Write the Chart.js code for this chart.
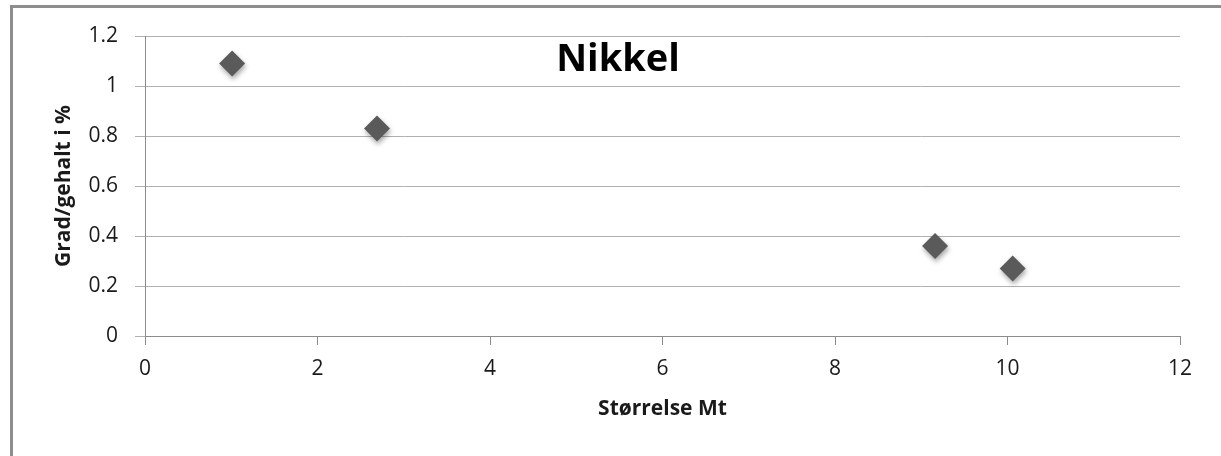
<!DOCTYPE html>
<html>
<head>
<meta charset="utf-8">
<script src="https://cdn.jsdelivr.net/npm/chart.js@4/dist/chart.umd.min.js"></script>
<style>
  html, body { margin: 0; padding: 0; background: #ffffff; }
  #wrap { width: 1221px; height: 456px; position: relative; }
</style>
</head>
<body>
<div id="wrap"><canvas id="chart" width="1221" height="456"></canvas></div>
<script>
// Deposit size (Mt) and nickel grade (%)
const sizeMt = [1.01, 2.69, 9.16, 10.06];
const gradePct = [1.09, 0.83, 0.36, 0.27];

const chartTitle = 'Nikkel';
const xTitle = 'Størrelse Mt';
const yTitle = 'Grad/gehalt i %';

const FONT = '"Open Sans", "DejaVu Sans", sans-serif';

// Frame lines along the top and left edges of the canvas
const framePlugin = {
  id: 'frame',
  beforeDraw(chart) {
    const ctx = chart.ctx;
    ctx.save();
    ctx.fillStyle = '#ffffff';
    ctx.fillRect(0, 0, chart.width, chart.height);
    ctx.fillStyle = '#8e8e8e';
    ctx.fillRect(10, 5, chart.width - 10, 3);
    ctx.fillRect(10, 5, 3, chart.height - 5);
    ctx.restore();
  }
};

// Soft drop shadow under the markers
const shadowPlugin = {
  id: 'markerShadow',
  beforeDatasetsDraw(chart) {
    const ctx = chart.ctx;
    ctx.save();
    ctx.shadowColor = 'rgba(0,0,0,0.35)';
    ctx.shadowBlur = 5;
    ctx.shadowOffsetX = 1;
    ctx.shadowOffsetY = 3;
  },
  afterDatasetsDraw(chart) {
    chart.ctx.restore();
  }
};

// Chart title overlaid inside the plot area
const overlayTitle = {
  id: 'overlayTitle',
  afterDraw(chart) {
    const ctx = chart.ctx;
    ctx.save();
    ctx.font = 'bold 38px ' + FONT;
    ctx.fillStyle = '#000000';
    ctx.textAlign = 'center';
    ctx.textBaseline = 'middle';
    ctx.fillText(chartTitle, 618, 60);
    ctx.restore();
  }
};

new Chart(document.getElementById('chart'), {
  type: 'scatter',
  data: {
    datasets: [{
      label: chartTitle,
      data: sizeMt.map((x, i) => ({ x: x, y: gradePct[i] })),
      pointStyle: 'rectRot',
      pointRadius: 13,
      pointHoverRadius: 13,
      backgroundColor: '#5a5a5a',
      borderColor: '#5a5a5a',
      borderWidth: 0
    }]
  },
  plugins: [framePlugin, shadowPlugin, overlayTitle],
  options: {
    responsive: false,
    animation: false,
    events: [],
    layout: { padding: { left: 12, top: 36, right: 41, bottom: 0 } },
    plugins: {
      legend: { display: false },
      tooltip: { enabled: false },
      title: { display: false }
    },
    scales: {
      x: {
        type: 'linear',
        min: 0,
        max: 12,
        afterFit(scale) { scale.height = 120; },
        ticks: {
          stepSize: 2,
          padding: 11,
          color: '#1a1a1a',
          font: { family: FONT, size: 21 }
        },
        grid: {
          drawOnChartArea: false,
          drawTicks: true,
          tickLength: 9,
          color: '#8c8c8c',
          lineWidth: 1
        },
        border: { display: true, color: '#8c8c8c', width: 1 },
        title: {
          display: true,
          text: xTitle,
          color: '#1a1a1a',
          font: { family: FONT, size: 21, weight: 'bold' },
          padding: { top: 0, bottom: 34 }
        }
      },
      y: {
        type: 'linear',
        min: 0,
        max: 1.2,
        afterFit(scale) { scale.width = 133; },
        ticks: {
          stepSize: 0.2,
          padding: 17,
          color: '#1a1a1a',
          font: { family: FONT, size: 21 },
          callback: (v) => String(Number(v.toFixed(1)))
        },
        grid: {
          drawOnChartArea: true,
          drawTicks: true,
          tickLength: 10,
          color: '#b0b0b0',
          lineWidth: 1
        },
        border: { display: true, color: '#8c8c8c', width: 1 },
        title: {
          display: true,
          text: yTitle,
          color: '#1a1a1a',
          font: { family: FONT, size: 21, weight: 'bold' },
          padding: { top: 39, bottom: 0 }
        }
      }
    }
  }
});
</script>
</body>
</html>
